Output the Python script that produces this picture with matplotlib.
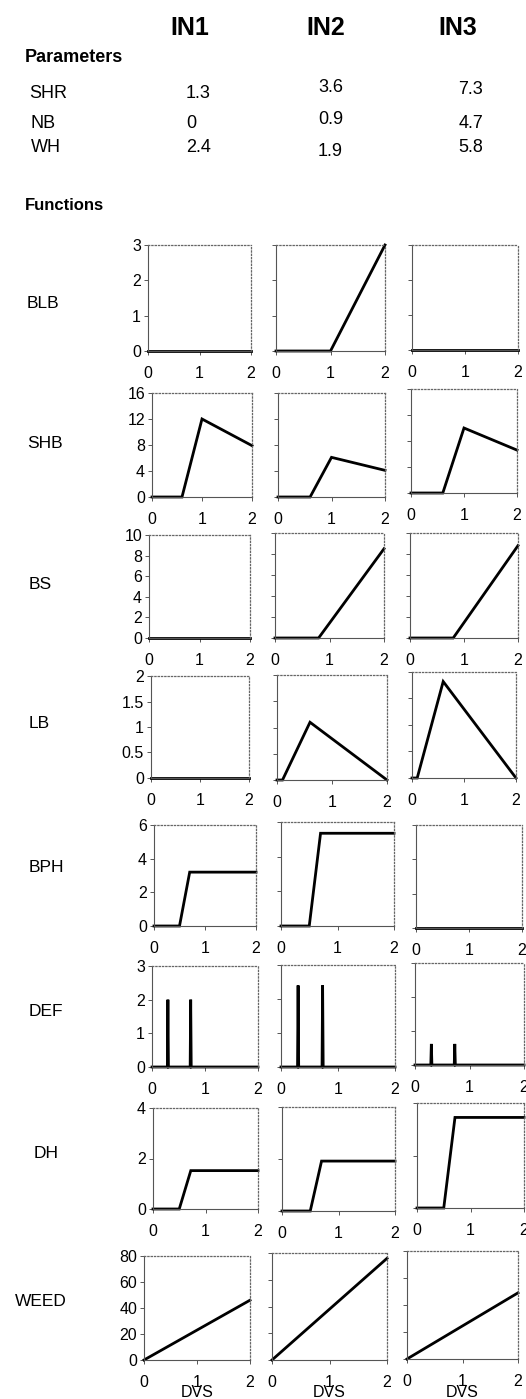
import matplotlib.pyplot as plt

plt.rcParams['font.family'] = ['Liberation Sans', 'DejaVu Sans']

# Parameter table
inputs = ["IN1", "IN2", "IN3"]
param_names = ["SHR", "NB", "WH"]
param_vals = [["1.3", "3.6", "7.3"],
              ["0", "0.9", "4.7"],
              ["2.4", "1.9", "5.8"]]

# Functions (x = DVS, y per input column)
func_names = ["BLB", "SHB", "BS", "LB", "BPH", "DEF", "DH", "WEED"]
func_ylim = [3, 16, 10, 2, 6, 3, 4, 80]
func_yticks = [[0, 1, 2, 3], [0, 4, 8, 12, 16], [0, 2, 4, 6, 8, 10],
               [0, 0.5, 1, 1.5, 2], [0, 2, 4, 6], [0, 1, 2, 3], [0, 2, 4],
               [0, 20, 40, 60, 80]]

blb_x = [[0, 2], [0, 1, 2], [0, 2]]
blb_y = [[0, 0], [0, 0, 3], [0, 0]]
shb_x = [[0, 0.6, 1, 2], [0, 0.6, 1, 2], [0, 0.6, 1, 2]]
shb_y = [[0, 0, 12, 7.9], [0, 0, 6.1, 4.1], [0, 0, 10, 6.6]]
bs_x = [[0, 2], [0, 0.8, 2], [0, 0.8, 2]]
bs_y = [[0, 0], [0, 0, 8.5], [0, 0, 8.8]]
lb_x = [[0, 2], [0, 0.1, 0.6, 2], [0, 0.1, 0.6, 2]]
lb_y = [[0, 0], [0, 0, 1.1, 0], [0, 0, 1.82, 0]]
bph_x = [[0, 0.5, 0.7, 2], [0, 0.5, 0.7, 2], [0, 2]]
bph_y = [[0, 0, 3.2, 3.2], [0, 0, 5.35, 5.35], [0, 0]]
def_x = [0, 0.29, 0.30, 0.31, 0.72, 0.73, 0.74, 2]
def_h = [2.0, 2.4, 0.62]
dh_x = [[0, 0.5, 0.72, 2], [0, 0.5, 0.7, 2], [0, 0.5, 0.71, 2]]
dh_y = [[0, 0, 1.52, 1.52], [0, 0, 1.92, 1.92], [0, 0, 3.45, 3.45]]
weed_x = [[0, 2], [0, 2], [0, 2]]
weed_y = [[0, 46], [0, 76], [0, 49]]

def_y = [[0, 0, h, 0, 0, h, 0, 0] for h in def_h]
def_xs = [def_x, def_x, def_x]

series_x = [blb_x, shb_x, bs_x, lb_x, bph_x, def_xs, dh_x, weed_x]
series_y = [blb_y, shb_y, bs_y, lb_y, bph_y, def_y, dh_y, weed_y]

W, H = 526, 1399
fig = plt.figure(figsize=(W / 100, H / 100), dpi=100)

def fx(px):
    return px / W

def fy(py):
    return 1 - py / H

# panel boxes in pixels: left, top, right, bottom
boxes = [
    [(148, 245, 251, 351), (276, 245, 385, 351), (412, 245, 518, 350)],
    [(152, 393, 252, 497), (278, 393, 385, 497), (411, 389, 517, 493)],
    [(149, 535, 250, 638), (275, 533, 384, 638), (410, 533, 518, 638)],
    [(151, 676, 249, 778), (277, 675, 387, 780), (412, 672, 516, 778)],
    [(154, 825, 256, 926), (281, 822, 394, 926), (416, 825, 522, 928)],
    [(152, 966, 258, 1067), (281, 965, 395, 1067), (415, 963, 524, 1065)],
    [(153, 1108, 258, 1209), (282, 1107, 395, 1211), (417, 1103, 524, 1208)],
    [(144, 1256, 250, 1360), (272, 1253, 387, 1360), (407, 1251, 518, 1359)],
]
row_label_pos = [(27, 304), (27, 443), (29, 585), (29, 723), (29, 867),
                 (29, 1011), (34, 1153), (15, 1301)]

# header
for name, xp in zip(inputs, [190, 326, 458]):
    fig.text(fx(xp), fy(28), name, ha='center', va='center',
             fontsize=18, fontweight='bold')
fig.text(fx(25), fy(57), "Parameters", ha='left', va='center',
         fontsize=13, fontweight='bold')
fig.text(fx(25), fy(206), "Functions", ha='left', va='center',
         fontsize=12, fontweight='bold')

label_x = [29, 31, 31]
row_y = [[93, 88, 90], [123, 120, 123], [148, 151, 147]]
for i, pname in enumerate(param_names):
    fig.text(fx(label_x[i]), fy(row_y[i][0]), pname, ha='left', va='center', fontsize=13)
    fig.text(fx(186), fy(row_y[i][0]), param_vals[i][0], ha='left', va='center', fontsize=13)
    fig.text(fx(318), fy(row_y[i][1]), param_vals[i][1], ha='left', va='center', fontsize=13)
    fig.text(fx(483), fy(row_y[i][2]), param_vals[i][2], ha='right', va='center', fontsize=13)

for r, fname in enumerate(func_names):
    lx, ly = row_label_pos[r]
    fig.text(fx(lx), fy(ly), fname, ha='left', va='center', fontsize=12.5)
    for c in range(3):
        l, t, rr, b = boxes[r][c]
        ax = fig.add_axes([fx(l), fy(b), fx(rr - l), (b - t) / H])
        ax.plot(series_x[r][c], series_y[r][c], color='black', lw=2,
                clip_on=False, solid_joinstyle='miter')
        ax.set_xlim(0, 2)
        ax.set_ylim(0, func_ylim[r])
        ax.set_xticks([0, 1, 2])
        ax.set_xticklabels(["0", "1", "2"])
        ax.set_yticks(func_yticks[r])
        if c == 0:
            ax.set_yticklabels([f"{v:g}" for v in func_yticks[r]])
        else:
            ax.set_yticklabels([])
        ax.tick_params(axis='x', direction='out', length=3, width=0.7,
                       color='#555555', pad=8, labelsize=11.5)
        ax.tick_params(axis='y', direction='out', length=3, width=0.7,
                       color='#555555', pad=2, labelsize=11.5)
        for s in ['top', 'right']:
            ax.spines[s].set_linestyle(':')
            ax.spines[s].set_color('#666666')
            ax.spines[s].set_linewidth(0.9)
        for s in ['left', 'bottom']:
            ax.spines[s].set_color('#555555')
            ax.spines[s].set_linewidth(0.8)
        if r == len(func_names) - 1:
            fig.text(fx((l + rr) / 2), fy(1385), "DVS", ha='center', va='top',
                     fontsize=11.5)

fig.savefig("out.png", dpi=100)
